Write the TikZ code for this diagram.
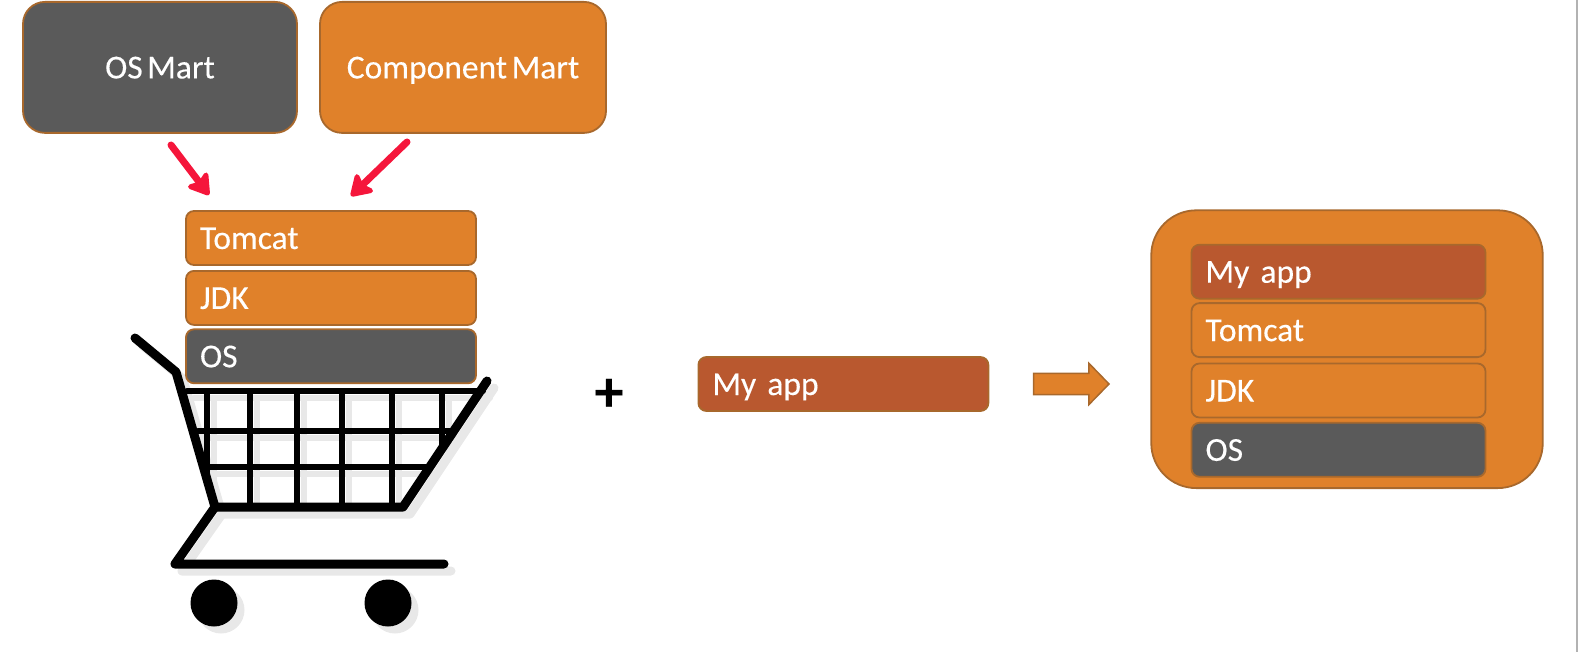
\documentclass[tikz,border=0pt]{standalone}
\usepackage{fontspec}
\setmainfont{Carlito}[WordSpace=0.6,FakeBold=0.25]
\usetikzlibrary{arrows.meta}
\definecolor{martorange}{HTML}{E0812A}
\definecolor{martgray}{HTML}{5A5A5A}
\definecolor{appbrown}{HTML}{B9582F}
\definecolor{edgebrown}{HTML}{A8682C}
\definecolor{pickred}{HTML}{F5163B}
\definecolor{cartshadow}{HTML}{E8E8E8}
\tikzset{
  box/.style={draw=edgebrown, line width=1.8pt, text=white, text height=25pt, text depth=3pt, font=\fontsize{33.5}{33.5}\selectfont},
  martbox/.style={box, rounded corners=22pt, minimum height=131pt},
  stackbox/.style={box, rounded corners=8pt, minimum height=54pt, inner ysep=0pt, text width=262pt, inner xsep=14pt, align=left},
  imgbox/.style={stackbox, text width=266pt},
  pick/.style={pickred, line width=7pt, line cap=round, -{Stealth[length=24pt,width=30pt,inset=5pt,round,line width=6pt]}},
}
\begin{document}
\begin{tikzpicture}[x=1pt, y=-1pt]
\useasboundingbox (0,0) rectangle (1578,652);
% Marts
    \node[martbox, fill=martgray, minimum width=274pt] (osmart) at (160,67.4) {OS Mart};
    \node[martbox, fill=martorange, minimum width=286pt] (compmart) at (463,67.4) {Component Mart};
% Picks
    \coordinate (osfrom) at (171,145);
    \coordinate (osto) at (209,195);
    \coordinate (compfrom) at (407,142);
    \coordinate (compto) at (351,196);
    \draw[pick] (osfrom) -- (osto);
    \draw[pick] (compfrom) -- (compto);
% Cart
    \foreach \dx/\cartcol in {7/cartshadow, 0/black} {
      \begin{scope}[shift={(\dx,\dx)}, \cartcol, line cap=round, line join=round]
        \draw[line width=6pt] (187,391) -- (483,391);
        \draw[line width=6pt] (198,431) -- (452,431);
        \draw[line width=6pt] (205,467) -- (428,467);
        \draw[line width=6pt] (207,391) -- (207,477);
        \foreach \gx in {250,297,342,392}
          \draw[line width=6pt] (\gx,391) -- (\gx,505);
        \draw[line width=6pt] (442,391) -- (442,445);
        \draw[line width=9pt] (135,338) -- (176,372) -- (215,507) -- (403,507) -- (487,381);
        \draw[line width=9pt] (215,507) -- (175,564) -- (444,564);
        \fill (214,603) circle (23.5);
        \fill (388,603) circle (23.5);
      \end{scope}
    }
% Stack in the cart
    \node[stackbox, fill=martorange] (tomcat) at (331,238) {Tomcat};
    \node[stackbox, fill=martorange] (jdk) at (331,297.9) {JDK};
    \node[stackbox, fill=martgray] (os) at (331,356.3) {OS};
% Plus and my app
    \node[text=black, font=\fontsize{58}{58}\selectfont\bfseries] (plus) at (609,395) {+};
    \node[stackbox, fill=appbrown] (myapp) at (843.4,384) {My app};
% Arrow
    \filldraw[fill=martorange, draw=edgebrown, line width=1.5pt]
      (1033.6,373.4) -- (1088.9,373.4) -- (1088.9,363.3) -- (1109,384) -- (1088.9,404.6) -- (1088.9,394.5) -- (1033.6,394.5) -- cycle;
% Image
    \node[draw=edgebrown, line width=1.8pt, fill=martorange, rounded corners=45pt, minimum width=391.5pt, minimum height=277.8pt] (image) at (1347,349.2) {};
    \node[imgbox, fill=appbrown] (imgapp) at (1338.5,271.7) {My app};
    \node[imgbox, fill=martorange] (imgtomcat) at (1338.5,330.1) {Tomcat};
    \node[imgbox, fill=martorange] (imgjdk) at (1338.5,390.5) {JDK};
    \node[imgbox, fill=martgray] (imgos) at (1338.5,449.8) {OS};
% Page edge
    \draw[line width=1.5pt, black!30] (1577.2,0) -- (1577.2,652);
\end{tikzpicture}
\end{document}
